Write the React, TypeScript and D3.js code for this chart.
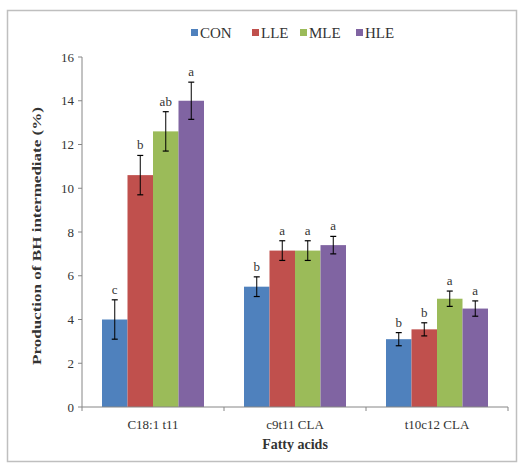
import React from "react";
import * as d3 from "d3";

const categories = ["C18:1 t11", "c9t11 CLA", "t10c12 CLA"];
const seriesNames = ["CON", "LLE", "MLE", "HLE"];
const colors = ["#4F81BD", "#C0504D", "#9BBB59", "#8064A2"];
const values = [
  [4.0, 5.5, 3.1],
  [10.6, 7.15, 3.55],
  [12.6, 7.15, 4.95],
  [14.0, 7.4, 4.5],
];
const errors = [
  [0.9, 0.45, 0.3],
  [0.9, 0.45, 0.3],
  [0.9, 0.45, 0.35],
  [0.85, 0.4, 0.35],
];
const letters = [
  ["c", "b", "b"],
  ["b", "a", "b"],
  ["ab", "a", "a"],
  ["a", "a", "a"],
];
const yTicks = [0, 2, 4, 6, 8, 10, 12, 14, 16];

const W = 524, H = 467;
const left = 82, right = 508, top = 57, bottom = 407;
const font = "'Liberation Serif', 'Times New Roman', serif";

export default function App() {
  const y = d3.scaleLinear().domain([0, 16]).range([bottom, top]);
  const x0 = d3.scaleBand().domain(categories).range([left, right]).paddingInner(0).paddingOuter(0);
  const groupPad = 20;
  const x1 = d3
    .scaleBand()
    .domain(seriesNames)
    .range([groupPad, x0.bandwidth() - groupPad]);

  const legendX = [191, 252, 300, 356];

  return (
    <svg width={W} height={H} style={{ position: "absolute", left: 0, top: 0 }} fontFamily={font}>
      <rect x={0} y={0} width={W} height={H} fill="#fff" />
      <rect x={7.5} y={10.5} width={509} height={451} fill="#fff" stroke="#bfbfbf" strokeWidth={1.5} />
      {/* legend */}
      {seriesNames.map((s, i) => (
        <g key={s}>
          <rect x={legendX[i]} y={29} width={7} height={7} fill={colors[i]} />
          <text x={legendX[i] + 9} y={38} fontSize={15} fill="#333">
            {s}
          </text>
        </g>
      ))}
      {/* bars */}
      {seriesNames.map((s, i) =>
        categories.map((c, j) => {
          const bx = (x0(c) as number) + (x1(s) as number);
          const v = values[i][j];
          const e = errors[i][j];
          const cx = bx + x1.bandwidth() / 2;
          return (
            <g key={s + c}>
              <rect x={bx} y={y(v)} width={x1.bandwidth()} height={bottom - y(v)} fill={colors[i]} />
              <line x1={cx} x2={cx} y1={y(v + e)} y2={y(v - e)} stroke="#000" strokeWidth={1} />
              <line x1={cx - 3} x2={cx + 3} y1={y(v + e)} y2={y(v + e)} stroke="#000" strokeWidth={1.2} />
              <line x1={cx - 3} x2={cx + 3} y1={y(v - e)} y2={y(v - e)} stroke="#000" strokeWidth={1.2} />
              <text x={cx} y={y(v + e) - 6} textAnchor="middle" fontSize={13} fill="#333">
                {letters[i][j]}
              </text>
            </g>
          );
        })
      )}
      {/* y axis */}
      <line x1={left} x2={left} y1={top} y2={bottom} stroke="#868686" strokeWidth={1} />
      {yTicks.map((t) => (
        <g key={t}>
          <line x1={left - 4} x2={left} y1={y(t)} y2={y(t)} stroke="#868686" />
          <text x={left - 8} y={y(t) + 4.5} textAnchor="end" fontSize={13} fill="#333">
            {t}
          </text>
        </g>
      ))}
      {/* x axis */}
      <line x1={left} x2={right} y1={bottom} y2={bottom} stroke="#868686" strokeWidth={1} />
      {[0, 1, 2, 3].map((k) => {
        const tx = left + k * x0.bandwidth();
        return <line key={k} x1={tx} x2={tx} y1={bottom} y2={bottom + 4} stroke="#868686" />;
      })}
      {categories.map((c) => (
        <text key={c} x={(x0(c) as number) + x0.bandwidth() / 2} y={429} textAnchor="middle" fontSize={13} fill="#333">
          {c}
        </text>
      ))}
      <text x={(left + right) / 2} y={449} textAnchor="middle" fontSize={14} fontWeight="bold" fill="#333">
        Fatty acids
      </text>
      <text
        transform={`translate(41, 236) rotate(-90)`}
        textAnchor="middle"
        fontSize={13}
        fontWeight="bold"
        fill="#333"
        textLength={258}
        lengthAdjust="spacingAndGlyphs"
      >
        Production of BH intermediate (%)
      </text>
    </svg>
  );
}
